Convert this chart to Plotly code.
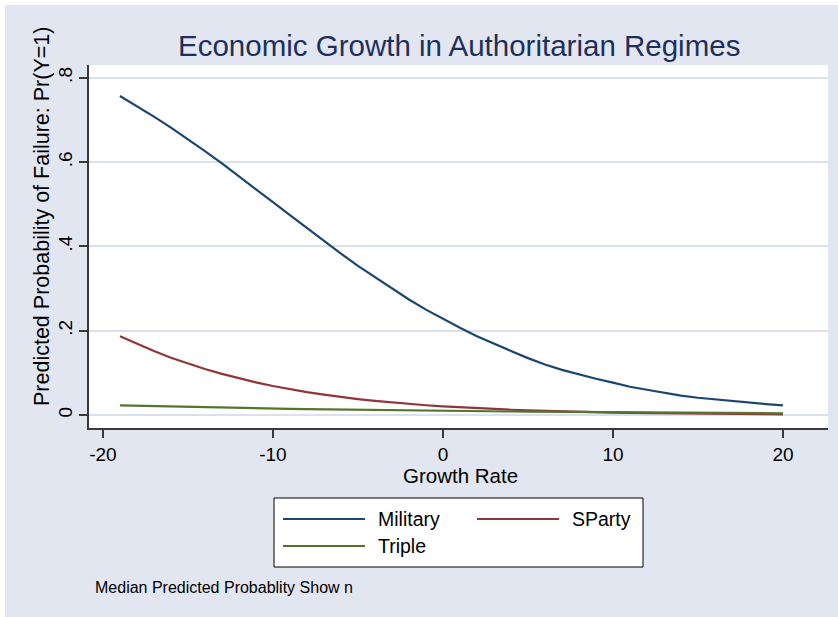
import plotly.graph_objects as go

# Growth rate grid used for the predicted probabilities
growth = list(range(-19, 21))

# Predicted probability of regime failure by regime type
military = [0.757, 0.733, 0.708, 0.682, 0.655, 0.626, 0.597, 0.567, 0.536, 0.505,
            0.474, 0.443, 0.413, 0.383, 0.354, 0.327, 0.300, 0.274, 0.250, 0.228,
            0.207, 0.187, 0.169, 0.152, 0.135, 0.120, 0.107, 0.096, 0.086, 0.077,
            0.067, 0.060, 0.053, 0.046, 0.041, 0.037, 0.033, 0.030, 0.026, 0.023]
sparty = [0.187, 0.169, 0.152, 0.136, 0.122, 0.109, 0.0975, 0.087, 0.0774, 0.0689,
          0.0612, 0.0544, 0.0483, 0.0428, 0.0379, 0.0336, 0.0297, 0.0263, 0.0232, 0.0206,
          0.0182, 0.0160, 0.0142, 0.0125, 0.0111, 0.0098, 0.0086, 0.0076, 0.0067, 0.0059,
          0.0052, 0.0046, 0.0041, 0.0036, 0.0032, 0.0028, 0.0025, 0.0022, 0.0019, 0.0017]
triple = [0.0230, 0.0220, 0.0210, 0.0201, 0.0192, 0.0184, 0.0176, 0.0169, 0.0161, 0.0154,
          0.0148, 0.0141, 0.0135, 0.0129, 0.0124, 0.0118, 0.0113, 0.0108, 0.0103, 0.0099,
          0.0094, 0.0090, 0.0086, 0.0083, 0.0079, 0.0076, 0.0072, 0.0069, 0.0066, 0.0063,
          0.0060, 0.0058, 0.0055, 0.0053, 0.0050, 0.0048, 0.0046, 0.0044, 0.0042, 0.0040]

series_names = ["Military", "SParty", "Triple"]
series_colors = ["#1A476F", "#90353B", "#55752F"]

x_ticks = [-20, -10, 0, 10, 20]
x_tick_labels = ["-20", "-10", "0", "10", "20"]
y_ticks = [0, 0.2, 0.4, 0.6, 0.8]
y_tick_labels = ["0", ".2", ".4", ".6", ".8"]

title_text = "Economic Growth in Authoritarian Regimes"
x_title = "Growth Rate"
y_title = "Predicted Probability of Failure: Pr(Y=1)"
note_text = "Median Predicted Probablity Show n"

W, H = 838, 617
L, R, T, B = 89, 828, 65, 428  # plot region in pixels
FONT = "Liberation Sans, Arial, sans-serif"
BG = "#E1E6F0"
GRID = "#DAE1EE"
AXIS = "#3A3A3A"


def px_x(x):
    return (x - L) / (R - L)


def px_y(y):
    return (B - y) / (B - T)


fig = go.Figure()
for name, color, ys in zip(series_names, series_colors, [military, sparty, triple]):
    fig.add_trace(go.Scatter(x=growth, y=ys, mode="lines", name=name,
                             line=dict(color=color, width=2.2), showlegend=False))

shapes = [
    # white margin strips at the top and left edge of the page
    dict(type="rect", xref="paper", yref="paper", x0=px_x(-5), x1=px_x(W + 5),
         y0=px_y(5), y1=px_y(-5), fillcolor="white", line=dict(width=0), layer="below"),
    dict(type="rect", xref="paper", yref="paper", x0=px_x(-5), x1=px_x(5),
         y0=px_y(H + 5), y1=px_y(-5), fillcolor="white", line=dict(width=0), layer="below"),
    # legend box
    dict(type="rect", xref="paper", yref="paper", x0=px_x(274), x1=px_x(643),
         y0=px_y(567), y1=px_y(498), fillcolor="white", line=dict(color="black", width=1)),
]

annotations = [
    dict(text=title_text, x=px_x(459), y=px_y(45), xref="paper", yref="paper",
         showarrow=False, xanchor="center", yanchor="middle",
         font=dict(family=FONT, size=29.5, color="#1E2F5C")),
    dict(text=x_title, x=px_x(460), y=px_y(475), xref="paper", yref="paper",
         showarrow=False, xanchor="center", yanchor="middle",
         font=dict(family=FONT, size=20.5, color="black")),
    dict(text=y_title, x=px_x(42), y=px_y(217), xref="paper", yref="paper",
         showarrow=False, xanchor="center", yanchor="middle", textangle=-90,
         font=dict(family=FONT, size=21.5, color="black")),
    dict(text=note_text, x=px_x(93), y=px_y(587), xref="paper", yref="paper",
         showarrow=False, xanchor="left", yanchor="middle",
         font=dict(family=FONT, size=16, color="black")),
]

# legend entries: line sample and label, laid out in two columns
legend_pos = [(283, 519), (477, 519), (283, 546)]
for name, color, (lx, ly) in zip(series_names, series_colors, legend_pos):
    shapes.append(dict(type="line", xref="paper", yref="paper",
                       x0=px_x(lx), x1=px_x(lx + 82), y0=px_y(ly), y1=px_y(ly),
                       line=dict(color=color, width=2)))
    annotations.append(dict(text=name, x=px_x(lx + 93), y=px_y(ly), xref="paper", yref="paper",
                            showarrow=False, xanchor="left", yanchor="middle",
                            font=dict(family=FONT, size=19.5, color="black")))

fig.update_layout(
    width=W, height=H,
    margin=dict(l=L, r=W - R, t=T, b=H - B, pad=0),
    paper_bgcolor=BG, plot_bgcolor="white",
    font=dict(family=FONT, color="black"),
    showlegend=False,
    shapes=shapes, annotations=annotations,
    xaxis=dict(range=[-20.82, 22.65], tickvals=x_ticks, ticktext=x_tick_labels,
               showgrid=False, zeroline=False,
               showline=True, linecolor=AXIS, linewidth=1.5, ticks="outside", ticklen=8,
               tickcolor=AXIS, tickwidth=1.5, tickfont=dict(family=FONT, size=19, color="black")),
    yaxis=dict(range=[-0.0308, 0.8304], tickvals=y_ticks, ticktext=y_tick_labels,
               tickangle=-90, showgrid=True, gridcolor=GRID, gridwidth=1.5, zeroline=False,
               showline=True, linecolor=AXIS, linewidth=1.5, ticks="outside", ticklen=8,
               tickcolor=AXIS, tickwidth=1.5, tickfont=dict(family=FONT, size=19, color="black")),
)

fig.write_html("out.html")
